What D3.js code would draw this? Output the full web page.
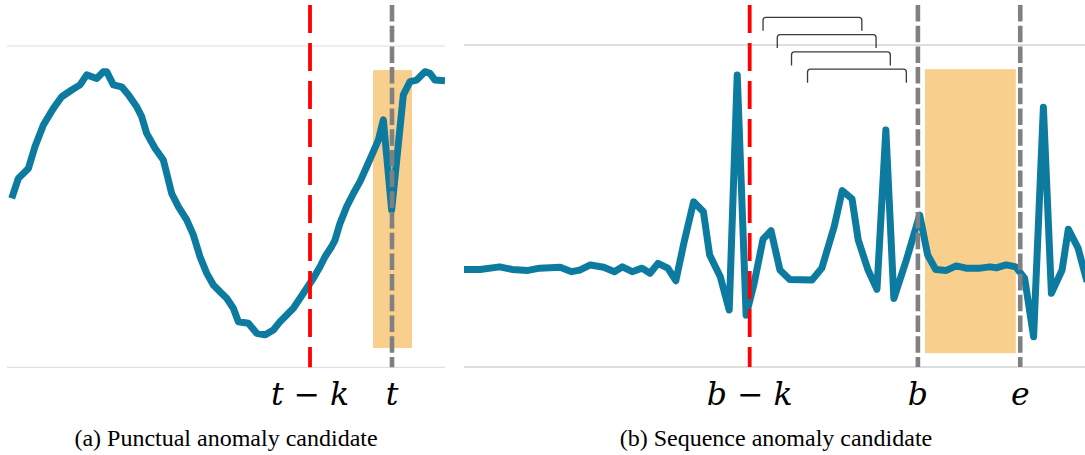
<!DOCTYPE html>
<html>
<head>
<meta charset="utf-8">
<script src="https://cdn.jsdelivr.net/npm/d3@7"></script>
<style>
  html, body { margin: 0; padding: 0; background: #fff; }
  svg { display: block; }
</style>
</head>
<body>
<svg id="chart" width="1085" height="455"></svg>
<script>
// Panel (a): smooth periodic signal with a single-point dip
const timeA = [0,2,5,7,9.5,12.5,15,18,20.5,22.5,25.5,27.5,28.5,30.5,33,35,37.5,39,40.5,43,45.5,46.5,48,50,52.5,54.5,56.5,58.5,60.5,62.5,64.5,66.5,68,71,73.5,76,78.5,80.5,82.5,84.5,86.5,88.5,90.5,92.5,94,96,97,98.5,100.5,102.5,104.5,106.5,108.5,110,111.5,114,117.5,119.5,121.5,124,125.5,127,130];
const valueA = [52.6,58.8,61.9,68.7,75.4,80.6,84.2,86.3,87.9,91.0,89.9,92.0,92.0,87.9,87.3,84.8,81.1,78.0,72.8,68.2,64.5,60.4,54.1,50.0,45.9,41.2,34.4,29.3,25.6,23.5,21.5,18.4,14.2,13.7,10.6,10.1,11.6,14.2,16.3,18.4,21.5,24.6,27.7,31.3,34.4,37.6,39.6,44.8,50.0,54.1,57.8,62.4,67.1,70.7,77.0,49.0,84.8,88.9,89.4,92.0,91.5,89.4,89.2];
const markersA = [{ t: 89.5, label: ["t", "k"], kind: "window" }, { t: 114.1, label: ["t"], kind: "point" }];
const candidateA = { from: 108.4, to: 120.1, low: 6.0, high: 92.5 };

// Panel (b): flat signal with bursts, and a flat sequence candidate
const timeB = [0,1.8,4.0,5.4,7.2,8.5,10.8,12.1,13.0,14.2,15.7,16.9,17.8,18.9,20.0,20.9,21.8,22.9,23.8,24.7,25.8,26.9,27.6,28.8,29.8,30.7,31.7,32.6,33.6,34.5,35.5,36.6,39.1,40.2,41.6,42.5,43.6,44.3,45.4,46.4,47.4,48.3,49.7,51.2,52.1,53.0,54.2,55.3,56.4,58.0,59.1,59.8,60.9,62.0,63.0,64.0,65.1,66.0,67.2,67.9,69.0,70.0];
const valueB = [30.3,30.3,31.1,30.3,30.0,30.7,31.0,29.6,30.1,31.7,31.0,29.6,31.1,29.6,30.7,29.1,32.2,30.7,26.8,38.4,51.3,48.2,34.8,28.0,17.7,90.7,16.1,26.0,39.7,42.3,30.1,27.2,27.0,30.7,43.6,54.8,52.2,39.4,30.1,24.1,73.6,21.3,33.2,47.2,34.8,30.3,30.0,31.4,30.7,30.7,31.1,30.8,31.7,31.1,27.5,9.4,80.7,22.9,30.1,42.8,36.9,26.5];
const markersB = [{ t: 32.1, label: ["b", "k"], kind: "window" }, { t: 51.0, label: ["b"], kind: "point" }, { t: 62.5, label: ["e"], kind: "point" }];
const candidateB = { from: 51.8, to: 62.0, low: 4.3, high: 92.5 };
// Sliding windows drawn as brackets above panel (b)
const windowStarts = [33.6, 35.2, 36.8, 38.6];
const windowLength = 11.1;

const captions = ["(a) Punctual anomaly candidate", "(b) Sequence anomaly candidate"];

const LINE = "#0c7b9f";
const FILL = "#f9cf8d";

const svg = d3.select("#chart");

function panel(cfg) {
  const g = svg.append("g");
  const x = d3.scaleLinear().domain(cfg.tDomain).range(cfg.xRange);
  const y = d3.scaleLinear().domain([0, 100]).range([cfg.bottom, cfg.top]);

  // reference rules at the bottom and top of the value range
  g.selectAll("line.grid").data([0, 100]).join("line")
    .attr("class", "grid")
    .attr("x1", cfg.gridX[0]).attr("x2", cfg.gridX[1])
    .attr("y1", d => y(d)).attr("y2", d => y(d))
    .attr("stroke", cfg.gridColor).attr("stroke-width", 1.2);

  const c = cfg.candidate;
  g.append("rect")
    .attr("x", x(c.from)).attr("width", x(c.to) - x(c.from))
    .attr("y", y(c.high)).attr("height", y(c.low) - y(c.high))
    .attr("fill", FILL);

  const line = d3.line().x(d => x(d[0])).y(d => y(d[1]));
  g.append("path")
    .datum(d3.zip(cfg.time, cfg.value))
    .attr("d", line)
    .attr("fill", "none")
    .attr("stroke", LINE)
    .attr("stroke-width", 7)
    .attr("stroke-linejoin", "round");

  cfg.markers.forEach(m => {
    const red = m.kind === "window";
    g.append("line")
      .attr("x1", x(m.t)).attr("x2", x(m.t))
      .attr("y1", 5).attr("y2", y(0))
      .attr("stroke", red ? "#ff0000" : "#808080")
      .attr("stroke-width", red ? 3.8 : 4.6)
      .attr("stroke-dasharray", red ? "28 10" : "16.5 4.2");

    const tx = g.append("text")
      .attr("x", x(m.t)).attr("y", 405)
      .attr("text-anchor", "middle")
      .attr("font-family", "'DejaVu Serif', serif")
      .attr("font-size", 31.5)
      .attr("fill", "#000");
    tx.append("tspan").attr("font-style", "italic").text(m.label[0]);
    if (m.label.length > 1) {
      tx.append("tspan").text(" \u2212 ");
      tx.append("tspan").attr("font-style", "italic").text(m.label[1]);
    }
  });

  return { x, y };
}

panel({
  tDomain: [0, 130], xRange: [11.7, 445],
  top: 46, bottom: 367.3, gridX: [7, 445], gridColor: "#e0e0e0",
  time: timeA, value: valueA, markers: markersA, candidate: candidateA
});

const pb = panel({
  tDomain: [0, 70], xRange: [464, 1087],
  top: 45, bottom: 367, gridX: [464, 1085], gridColor: "#bdbdbd",
  time: timeB, value: valueB, markers: markersB, candidate: candidateB
});

// window brackets, each one a level lower than the previous
const r = 3, legH = 13.5;
svg.append("g").selectAll("path").data(windowStarts).join("path")
  .attr("d", (s, i) => {
    const x0 = pb.x(s), x1 = pb.x(s + windowLength);
    const top = 17.3 + i * 17.3;
    return `M${x0},${top + legH}L${x0},${top + r}Q${x0},${top} ${x0 + r},${top}` +
           `L${x1 - r},${top}Q${x1},${top} ${x1},${top + r}L${x1},${top + legH}`;
  })
  .attr("fill", "none")
  .attr("stroke", "#3a3a3a")
  .attr("stroke-width", 1.3);

svg.append("g").selectAll("text").data(captions).join("text")
  .attr("x", (d, i) => i === 0 ? 226 : 776)
  .attr("y", 446)
  .attr("text-anchor", "middle")
  .attr("font-family", "'Liberation Serif', 'Times New Roman', serif")
  .attr("font-size", 24)
  .attr("fill", "#000")
  .text(d => d);
</script>
</body>
</html>
